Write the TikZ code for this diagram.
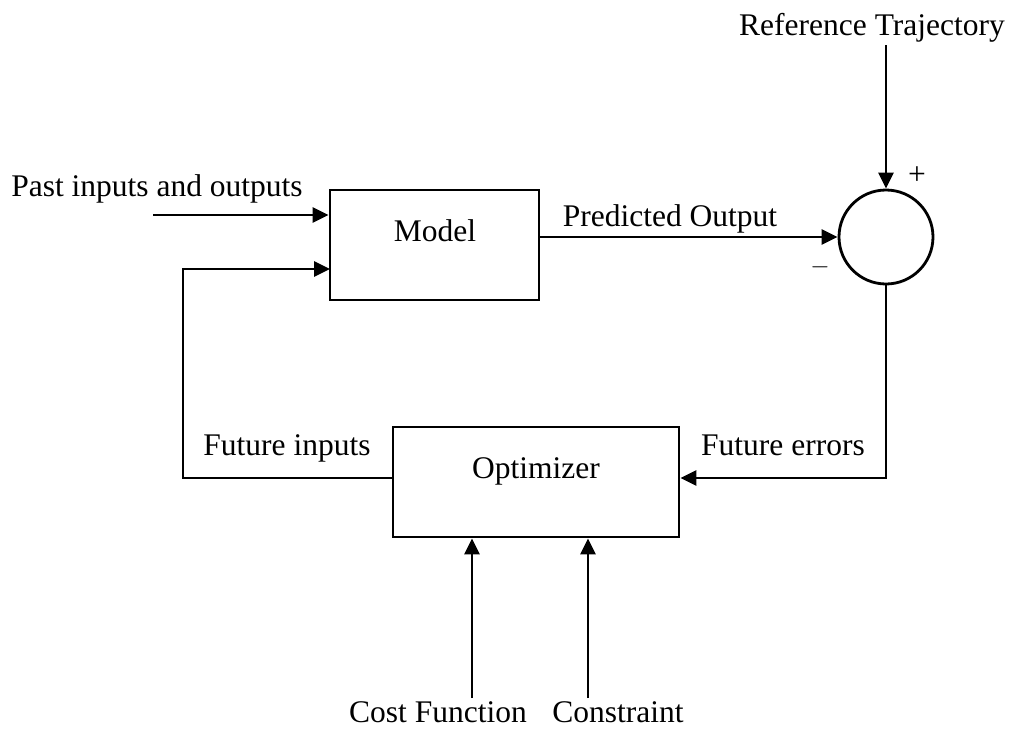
\documentclass[tikz,border=0pt]{standalone}
\usepackage{fontspec}
\setmainfont{Liberation Serif}
\usetikzlibrary{arrows.meta}
\begin{document}
\begin{tikzpicture}[x=1pt,y=-1pt,
  every node/.style={font=\fontsize{31.5}{36}\selectfont},
  block/.style={draw,line width=2.8pt,inner sep=0pt},
  sumnode/.style={draw,circle,line width=2.8pt,minimum size=94pt,inner sep=0pt},
  lbl/.style={anchor=base,inner sep=0pt},
  wire/.style={line width=2.8pt},
  sig/.style={wire,-{Triangle[length=16pt,width=15pt]}}]
\useasboundingbox (0,0) rectangle (1015,737);

% blocks
\node[block,minimum width=209pt,minimum height=110pt] (model) at (434.5,245) {};
\node[lbl] (modeltxt) at (435,241) {Model};
\node[block,minimum width=286pt,minimum height=110pt] (opt) at (536,482) {};
\node[lbl] (opttxt) at (536,478) {Optimizer};
\node[sumnode] (sum) at (886,237) {};

% signs at the summing junction
\node[lbl] (plus) at (917,184) {+};
\node[lbl] (minus) at (820,273) {$-$};

% free ends
\coordinate (pastin) at (153,215);
\coordinate (loopin) at (330,269);
\coordinate (refin) at (886,45);
\coordinate (costin) at (472,698);
\coordinate (consin) at (588,698);
\coordinate (errline) at (886,478);
\coordinate (fbcorner) at (183,478);

% text labels
\node[lbl] (pasttxt) at (157,196) {Past inputs and outputs};
\node[lbl] (predtxt) at (670,226) {Predicted Output};
\node[lbl] (reftxt) at (872,35) {Reference Trajectory};
\node[lbl] (futintxt) at (287,455) {Future inputs};
\node[lbl] (futerrtxt) at (783,455) {Future errors};
\node[lbl] (costtxt) at (438,722) {Cost Function};
\node[lbl] (constxt) at (618,722) {Constraint};

% connectors
\draw[sig] (pastin) -- (pastin -| model.west);
\draw[sig] (model.east |- sum.west) -- (sum.west);
\draw[sig] (refin) -- (sum.north);
\draw[sig] (sum.south) -- (errline) -- (errline -| opt.east);
\draw[sig] (errline -| opt.west) -- (fbcorner) |- (loopin);
\draw[sig] (costin) -- (costin |- opt.south);
\draw[sig] (consin) -- (consin |- opt.south);
\end{tikzpicture}
\end{document}
